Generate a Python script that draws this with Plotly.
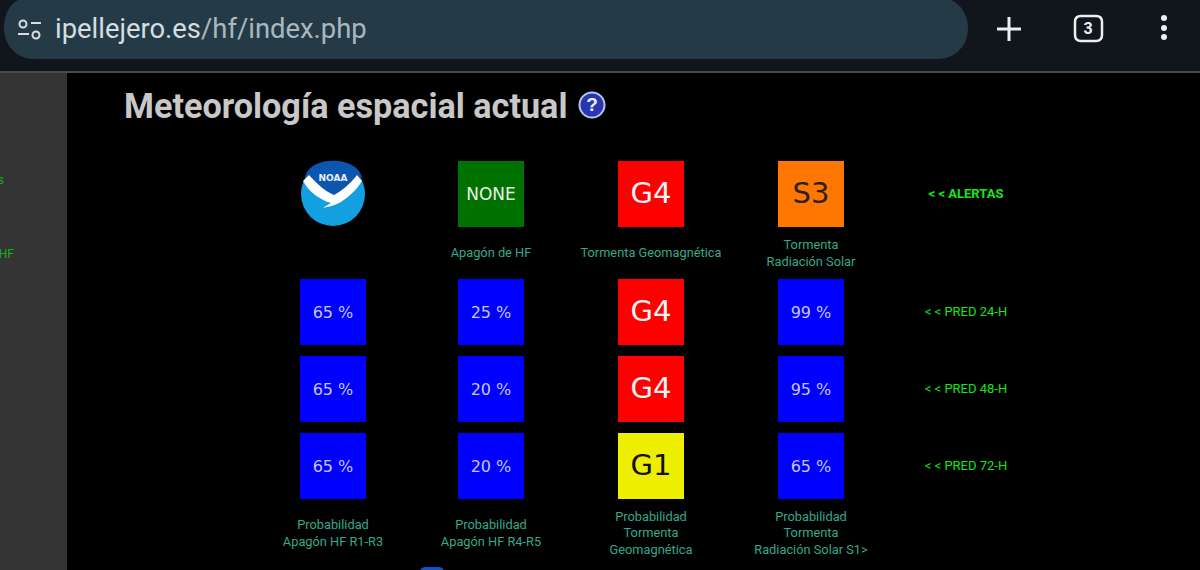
import plotly.graph_objects as go

# values
alert_row = ["NONE", "G4", "S3"]
pred_24 = ["65 %", "25 %", "G4", "99 %"]
pred_48 = ["65 %", "20 %", "G4", "95 %"]
pred_72 = ["65 %", "20 %", "G1", "65 %"]
row_tags = ["< < ALERTAS", "< < PRED 24-H", "< < PRED 48-H", "< < PRED 72-H"]
alert_captions = ["Apagón de HF", "Tormenta Geomagnética", "Tormenta<br>Radiación Solar"]
prob_captions = ["Probabilidad<br>Apagón HF R1-R3", "Probabilidad<br>Apagón HF R4-R5",
                 "Probabilidad<br>Tormenta<br>Geomagnética", "Probabilidad<br>Tormenta<br>Radiación Solar S1>"]

title = "Meteorología espacial actual"
url_host = "ipellejero.es"
url_path = "/hf/index.php"
tab_count = "3"

fill = {"NONE": "#007200", "G4": "#ff0000", "S3": "#ff7700", "G1": "#eeee00"}
ink = {"NONE": "#e6f2e6", "G4": "#f5f5f5", "S3": "#2a2010", "G1": "#111100"}
BLUE = "#0000ff"
PCT_INK = "#c6c6f0"
TEAL = "#35a88c"
GREEN = "#16e616"

col_x = [333, 491, 651, 811]
row_y = [194, 312, 389, 466]
TILE = 66

fig = go.Figure()


def rect(x0, y0, x1, y1, color):
    fig.add_shape(type="rect", x0=x0, y0=y0, x1=x1, y1=y1, fillcolor=color, line_width=0, layer="below")


def stroke(x0, y0, x1, y1, color, w):
    fig.add_shape(type="line", x0=x0, y0=y0, x1=x1, y1=y1, line=dict(color=color, width=w), layer="below")


def ring(cx, cy, r, line, w, color="rgba(0,0,0,0)"):
    fig.add_shape(type="circle", x0=cx - r, y0=cy - r, x1=cx + r, y1=cy + r,
                  fillcolor=color, line=dict(color=line, width=w), layer="below")


def write(x, y, text, size, color, family="Roboto", pos="middle center"):
    fig.add_trace(go.Scatter(x=[x], y=[y], mode="text", text=[text], textposition=pos,
                             textfont=dict(size=size, color=color, family=family),
                             hoverinfo="skip", cliponaxis=False))


# browser chrome
rect(0, 0, 1200, 71, "#10161c")
rect(0, 71, 1200, 73, "#484c4e")
rect(0, 73, 67, 570, "#343434")
fig.add_shape(type="path", path="M 30 -3 L 937 -3 C 955 -3 968 10 968 28 C 968 46 955 59 937 59 "
              "L 35 59 C 17 59 4 46 4 28 C 4 10 14 -3 30 -3 Z",
              fillcolor="#243b47", line_width=0, layer="below")

# url bar icons and text
ring(23, 24, 3.5, "#d5dde0", 2)
stroke(31, 23, 41, 23, "#d5dde0", 2)
stroke(18, 34, 29, 34, "#d5dde0", 2)
ring(36, 35, 3.5, "#d5dde0", 2)
write(55, 31, f"<span style='color:#d5dee2'>{url_host}</span>{url_path}", 27.4, "#a9b8c0", pos="middle right")

stroke(1009, 17, 1009, 41, "#eceff1", 3)
stroke(997, 29, 1021, 29, "#eceff1", 3)
fig.add_shape(type="path", path="M 1081 16 L 1096 16 Q 1102 16 1102 22 L 1102 35 Q 1102 41 1096 41 "
              "L 1081 41 Q 1075 41 1075 35 L 1075 22 Q 1075 16 1081 16 Z",
              line=dict(color="#eceff1", width=2.5), layer="below")
write(1088, 30, f"<b>{tab_count}</b>", 16, "#eceff1")
for dot_y in [18, 28, 37]:
    ring(1164, dot_y, 3, "#eceff1", 0, "#eceff1")

# left panel text, cut off by the window edge
write(4, 181, "s", 12, "#17b017", pos="middle left")
write(14, 255, "HF", 12, "#17b017", pos="middle left")

# heading and help icon
write(124, 109, f"<b>{title}</b>", 34.2, "#c8c8c8", pos="middle right")
ring(592, 105, 12.5, "#b8c4ee", 2, "#2a35b0")
write(592, 106, "<b>?</b>", 19, "#f0f0ff", "Liberation Sans")

# noaa logo
ring(333, 194, 32, "#12a0e0", 0, "#12a0e0")
fig.add_shape(type="path", path="M 305 178 C 308 155 358 155 362 178 C 350 185 340 194 333 198 C 325 194 315 184 305 178 Z",
              fillcolor="#0b57b0", line_width=0, layer="below")
fig.add_shape(type="path", path="M 303 181 L 309 175 C 316 183 326 192 334 195 C 342 191 351 183 357 175 L 362 181 "
              "C 356 191 347 198 341 202 C 336 205 328 207 323 208 C 327 205 330 204 331 203 C 320 200 309 192 303 181 Z",
              fillcolor="#ffffff", line_width=0, layer="below")
write(333, 179, "<b>NOAA</b>", 9, "#e8f0ff", "DejaVu Sans")

# status tiles
tile_x, tile_y, tile_fill, tile_text, tile_ink, tile_size = [], [], [], [], [], []
rows = [[None] + alert_row, pred_24, pred_48, pred_72]
for y, row in zip(row_y, rows):
    for x, val in zip(col_x, row):
        if val is None:
            continue
        tile_x.append(x)
        tile_y.append(y)
        tile_fill.append(fill.get(val, BLUE))
        tile_text.append(val)
        tile_ink.append(ink.get(val, PCT_INK))
        tile_size.append(16 if "%" in val else (17 if val == "NONE" else 29))

fig.add_trace(go.Scatter(x=tile_x, y=tile_y, mode="markers",
                         marker=dict(symbol="square", size=TILE, color=tile_fill, line_width=0),
                         hoverinfo="skip"))
fig.add_trace(go.Scatter(x=tile_x, y=[y + 2 for y in tile_y], mode="text", text=tile_text,
                         textposition="middle center",
                         textfont=dict(size=tile_size, color=tile_ink, family="DejaVu Sans"),
                         hoverinfo="skip"))

# captions
for x, cap in zip(col_x[1:], alert_captions):
    write(x, 254, cap, 12.8, TEAL)
for x, cap in zip(col_x, prob_captions):
    write(x, 534, cap, 12.8, TEAL)

# row tags on the right
for i, (y, tag) in enumerate(zip(row_y, row_tags)):
    write(966, y + 1, f"<b>{tag}</b>" if i == 0 else tag, 13, GREEN)

# bit of an icon cut off at the bottom
fig.add_shape(type="path", path="M 420 572 Q 420 567 426 567 L 438 567 Q 444 567 444 572 Z",
              fillcolor="#1450d8", line_width=0, layer="below")

fig.update_layout(width=1200, height=570, margin=dict(l=0, r=0, t=0, b=0),
                  paper_bgcolor="#000000", plot_bgcolor="#000000", showlegend=False,
                  xaxis=dict(range=[0, 1200], visible=False, fixedrange=True),
                  yaxis=dict(range=[570, 0], visible=False, fixedrange=True))

fig.write_html("out.html", config=dict(displayModeBar=False),
               post_script="document.body.style.margin='0';")
